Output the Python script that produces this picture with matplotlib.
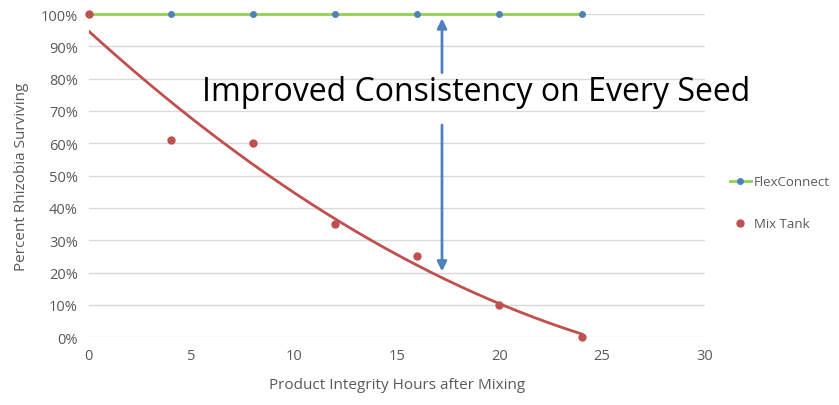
import numpy as np
import matplotlib
matplotlib.use('Agg')
from matplotlib import pyplot as plt
from matplotlib.ticker import PercentFormatter

hours = [0, 4, 8, 12, 16, 20, 24]
flex_connect = [1.00, 1.00, 1.00, 1.00, 1.00, 1.00, 1.00]
mix_tank = [1.00, 0.61, 0.60, 0.35, 0.25, 0.10, 0.00]

plt.rcParams['font.family'] = ['Open Sans', 'DejaVu Sans']
grey = '#595959'

fig = plt.figure(figsize=(8.39, 4.06), dpi=100)
ax = fig.add_axes([0.106, 0.167, 0.734, 0.796])

# polynomial (order 2) trendline for the mix tank data
coef = np.polyfit(hours, mix_tank, 2)
xs = np.linspace(hours[0], hours[-1], 200)
ax.plot(xs, np.polyval(coef, xs), color='#C0504D', linewidth=2, zorder=3)

ax.plot(hours, flex_connect, color='#92D050', linewidth=2, marker='o', markersize=4,
        markerfacecolor='#4F81BD', markeredgecolor='#4F81BD', label='FlexConnect',
        clip_on=False, zorder=4)
ax.plot(hours, mix_tank, linestyle='none', marker='o', markersize=5, color='#C0504D',
        label='Mix Tank', clip_on=False, zorder=4)

# split double arrow with annotation text
ax.annotate('', xy=(17.2, 0.995), xytext=(17.2, 0.81),
            arrowprops=dict(arrowstyle='-|>', color='#4F81BD', lw=2, mutation_scale=14))
ax.annotate('', xy=(17.2, 0.195), xytext=(17.2, 0.665),
            arrowprops=dict(arrowstyle='-|>', color='#4F81BD', lw=2, mutation_scale=14))
ax.text(5.5, 0.76, 'Improved Consistency on Every Seed', fontsize=23, color='black',
        va='center', ha='left', zorder=5)

ax.set_xlim(0, 30)
ax.set_ylim(0, 1)
ax.set_xticks(range(0, 31, 5))
ax.set_yticks(np.arange(0, 1.01, 0.1))
ax.yaxis.set_major_formatter(PercentFormatter(1.0, decimals=0))
ax.grid(axis='y', color='#D9D9D9', linewidth=1)
ax.set_axisbelow(True)
for s in ax.spines.values():
    s.set_visible(False)
ax.tick_params(length=0, colors=grey, labelsize=10.5, pad=8)
ax.set_xlabel('Product Integrity Hours after Mixing', color=grey, fontsize=11, labelpad=10)
ax.set_ylabel('Percent Rhizobia Surviving', color=grey, fontsize=11, labelpad=8)

fig.legend(loc='center left', bbox_to_anchor=(0.870, 0.498), frameon=False,
           fontsize=9.5, labelcolor=grey, handlelength=1.6, handletextpad=0.2,
           labelspacing=2.2, borderaxespad=0, borderpad=0)

fig.savefig('out.png', dpi=100)
